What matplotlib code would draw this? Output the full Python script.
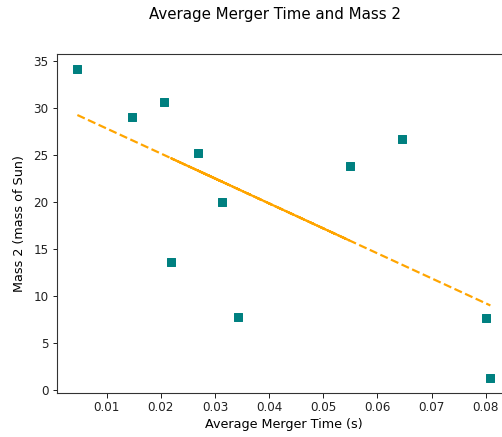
import numpy as np
import matplotlib
matplotlib.use("Agg")
import matplotlib.pyplot as plt

# merger time (s) and second mass (solar masses)
merger_time = [0.00457, 0.01473, 0.02064, 0.05488, 0.02681, 0.03135,
               0.02188, 0.03425, 0.0646, 0.08006, 0.08086]
mass_2 = [34.1, 29.0, 30.6, 23.8, 25.2, 20.0, 13.6, 7.7, 26.7, 7.6, 1.3]

x = np.array(merger_time)
y = np.array(mass_2)

fig = plt.figure(figsize=(502 / 72, 437 / 72), dpi=72)
ax = fig.add_axes([0.113, 0.1007, 0.905, 0.7757])

ax.scatter(x, y, marker='s', s=52, color='teal', zorder=3)

# linear fit drawn over the data in its original order
m, b = np.polyfit(x, y, 1)
ax.plot(x, m * x + b, '--', color='orange', linewidth=2.2)

ax.set_xlabel("Average Merger Time (s)", fontsize=12.8, va='center')
ax.set_ylabel("Mass 2 (mass of Sun)", fontsize=12.8, va='center')
ax.xaxis.set_label_coords(0.5, -0.094)
ax.yaxis.set_label_coords(-0.083, 0.5)
ax.tick_params(labelsize=12, length=4.5, width=1.0, colors='#222222')
for sp in ax.spines.values():
    sp.set_linewidth(1.1)
    sp.set_color('#333333')
fig.text(275 / 502, 1 - 15 / 437, "Average Merger Time and Mass 2",
         ha='center', va='center', fontsize=15)

fig.savefig("out.png", dpi=72)
